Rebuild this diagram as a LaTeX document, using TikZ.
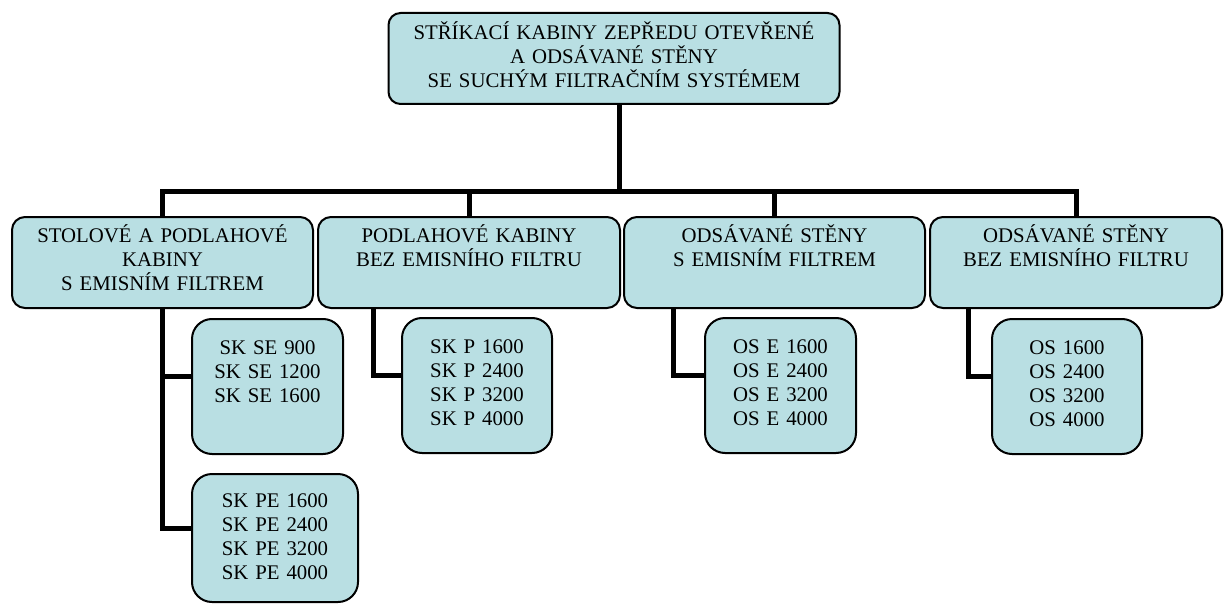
\documentclass[tikz,border=0pt]{standalone}
\usepackage{fontspec}
\setmainfont{Liberation Serif}
\definecolor{boxfill}{HTML}{B9DFE3}
\tikzset{
  box/.style={draw, line width=1pt, fill=boxfill, anchor=north, inner xsep=0pt, inner ysep=0pt, align=center, font=\fontsize{10.4}{12}\selectfont},
  head/.style={box, rounded corners=6pt, text height=13.2pt, text depth=32.3pt},
  group/.style={box, rounded corners=6.5pt, text height=12.85pt, text depth=32.65pt},
  model/.style={box, rounded corners=10pt, text height=17.85pt, text depth=49.65pt},
  conn/.style={line width=2.5pt}
}
\begin{document}
\begin{tikzpicture}[x=0.5pt,y=-0.5pt]
\useasboundingbox (0,0) rectangle (1224,604);
\node[head,text width=225.5pt] (top) at (614,12) {STŘÍKACÍ KABINY ZEPŘEDU OTEVŘENÉ\\A ODSÁVANÉ STĚNY\\SE SUCHÝM FILTRAČNÍM SYSTÉMEM};

\node[group,text width=150.5pt] (c1) at (162.5,216) {STOLOVÉ A PODLAHOVÉ\\KABINY\\S EMISNÍM FILTREM};
\node[group,text width=151pt] (c2) at (469,216) {PODLAHOVÉ KABINY\\BEZ EMISNÍHO FILTRU};
\node[group,text width=150.5pt] (c3) at (774.5,216) {ODSÁVANÉ STĚNY\\S EMISNÍM FILTREM};
\node[group,text width=146pt] (c4) at (1076,216) {ODSÁVANÉ STĚNY\\BEZ EMISNÍHO FILTRU};

\node[model,text width=75.5pt] (se) at (267.5,318) {SK SE 900\\SK SE 1200\\SK SE 1600};
\node[model,text width=83pt,text height=16.85pt,text depth=47.15pt] (pe) at (275,473) {SK PE 1600\\SK PE 2400\\SK PE 3200\\SK PE 4000};
\node[model,text width=75pt] (p) at (477,317) {SK P 1600\\SK P 2400\\SK P 3200\\SK P 4000};
\node[model,text width=75.5pt] (oe) at (780.5,317) {OS E 1600\\OS E 2400\\OS E 3200\\OS E 4000};
\node[model,text width=75pt] (os) at (1067,318) {OS 1600\\OS 2400\\OS 3200\\OS 4000};

\coordinate (bus) at (619,192);
\draw[conn] (top.south -| bus) -- (bus);
\draw[conn] (c1.north) |- (bus) -| (c4.north);
\draw[conn] (c2.north) -- (c2.north |- bus);
\draw[conn] (c3.north) -- (c3.north |- bus);

\draw[conn] (c1.south) |- ([yshift=5pt]pe.west);
\draw[conn] ([yshift=5pt]se.west) -- ([yshift=5pt]se.west -| c1.south);
\draw[conn] (c2.south -| 373,0) |- ([yshift=5pt]p.west);
\draw[conn] (c3.south -| 673,0) |- ([yshift=5pt]oe.west);
\draw[conn] (c4.south -| 968,0) |- ([yshift=5pt]os.west);
\end{tikzpicture}
\end{document}
